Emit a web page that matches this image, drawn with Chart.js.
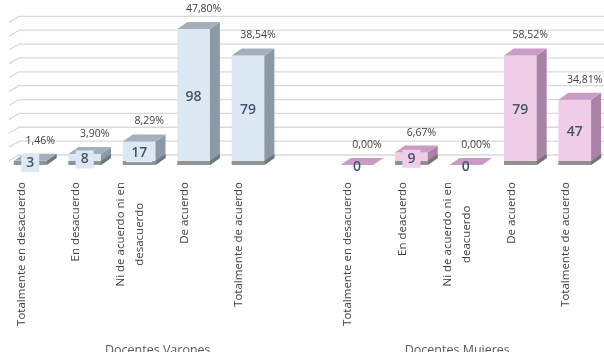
<!DOCTYPE html>
<html><head><meta charset="utf-8">
<script src="https://cdn.jsdelivr.net/npm/chart.js@4"></script>
<style>html,body{margin:0;padding:0;overflow:hidden;background:#fff}</style>
</head><body>
<canvas id="c" width="604" height="362"></canvas>
<script>
const varonesCategories = ['Totalmente en desacuerdo', 'En desacuerdo', ['Ni de acuerdo ni en', 'desacuerdo'], 'De acuerdo', 'Totalmente de acuerdo'];
const mujeresCategories = ['Totalmente en desacuerdo', 'En deacuerdo', ['Ni de acuerdo ni en', 'deacuerdo'], 'De acuerdo', 'Totalmente de acuerdo'];
const groupLabels = ['Docentes Varones', 'Docentes Mujeres'];
const varonesValues = [3, 8, 17, 98, 79];
const mujeresValues = [0, 9, 0, 79, 47];
const varonesPercent = ['1,46%', '3,90%', '8,29%', '47,80%', '38,54%'];
const mujeresPercent = ['0,00%', '6,67%', '0,00%', '58,52%', '34,81%'];
const gridValues = [0, 10, 20, 30, 40, 50, 60, 70, 80, 90, 100];

const labels = [...varonesCategories, '', ...mujeresCategories];
const values = [...varonesValues, null, ...mujeresValues];
const percents = [...varonesPercent, '', ...mujeresPercent];

const DX = 10, DY = 7, STRIP = 4;
const PAL = {
  v: {front: '#dce8f4', top: '#a3afbb', side: '#8d9aa6', strip: '#8f9499', stripSide: '#6f767c'},
  m: {front: '#f0cde6', top: '#c99bc5', side: '#a982a6', strip: '#909090', stripSide: '#747474'}
};
const palOf = i => i < 5 ? PAL.v : PAL.m;

function poly(ctx, pts, fill) {
  ctx.beginPath();
  ctx.moveTo(pts[0][0], pts[0][1]);
  for (let k = 1; k < pts.length; k++) ctx.lineTo(pts[k][0], pts[k][1]);
  ctx.closePath();
  ctx.fillStyle = fill;
  ctx.fill();
}

const bars3d = {
  id: 'bars3d',
  beforeDatasetsDraw(chart) {
    const ctx = chart.ctx, y = chart.scales.y, a = chart.chartArea;
    ctx.save();
    ctx.strokeStyle = '#d9d9d9';
    ctx.lineWidth = 1.3;
    gridValues.forEach(v => {
      const py = y.getPixelForValue(v) - 10;
      ctx.beginPath();
      ctx.moveTo(a.left + 6, py + 6);
      ctx.lineTo(a.left + 16, py);
      ctx.lineTo(a.right + 4, py);
      ctx.stroke();
    });
    ctx.restore();
  },
  afterDatasetsDraw(chart) {
    const ctx = chart.ctx;
    const meta = chart.getDatasetMeta(0);
    ctx.save();
    meta.data.forEach((el, i) => {
      if (values[i] === null) return;
      const p = palOf(i);
      const w = el.width, left = el.x - w / 2, right = el.x + w / 2;
      const top = el.y, base = el.base;
      const s = Math.min(STRIP, base - top);
      if (s > 0) ctx.fillStyle = p.strip, ctx.fillRect(left, base - s, w, s);
      poly(ctx, [[right, top], [right + DX, top - DY], [right + DX, base - DY], [right, base]], p.side);
      if (s > 0) poly(ctx, [[right, base - s], [right + DX, base - s - DY], [right + DX, base - DY], [right, base]], p.stripSide);
      poly(ctx, [[left, top], [right, top], [right + DX, top - DY], [left + DX, top - DY]], p.top);
    });
    meta.data.forEach((el, i) => {
      if (values[i] === null) return;
      const p = palOf(i);
      const top = el.y, base = el.base;
      const cy = values[i] === 0 ? base + 2 : (top + base) / 2;
      ctx.font = '600 14px "Open Sans"';
      ctx.textAlign = 'center';
      ctx.textBaseline = 'middle';
      const txt = String(values[i]);
      if (values[i] > 0) {
        const tw = ctx.measureText(txt).width;
        ctx.fillStyle = p.front;
        ctx.fillRect(el.x - tw / 2 - 5, cy - 9, tw + 10, 18);
      }
      ctx.fillStyle = '#44546a';
      ctx.fillText(txt, el.x, cy);
      ctx.font = '10.5px "Open Sans"';
      ctx.fillStyle = '#404040';
      ctx.fillText(percents[i], el.x + 10, top - DY - 13);
    });
    ctx.restore();
  },
  afterDraw(chart) {
    const ctx = chart.ctx, x = chart.scales.x;
    const yTop = x.top + 17;
    ctx.save();
    ctx.font = '11.5px "Open Sans"';
    ctx.fillStyle = '#404040';
    ctx.textBaseline = 'middle';
    labels.forEach((lab, i) => {
      if (!lab) return;
      const lines = Array.isArray(lab) ? lab : [lab];
      const cx = x.getPixelForValue(i) - 9;
      const lh = 19;
      const w0 = ctx.measureText(lines[0]).width;
      lines.forEach((ln, k) => {
        const px = cx + (k - (lines.length - 1) / 2) * lh;
        ctx.save();
        ctx.translate(px, yTop);
        ctx.rotate(-Math.PI / 2);
        ctx.textAlign = 'center';
        ctx.fillText(ln, -w0 / 2, 0);
        ctx.restore();
      });
    });
    ctx.restore();
  }
};

new Chart(document.getElementById('c'), {
  type: 'bar',
  data: {
    labels: labels,
    datasets: [{
      data: values,
      backgroundColor: values.map((v, i) => palOf(i).front),
      borderWidth: 0,
      categoryPercentage: 1,
      barPercentage: 0.6
    }]
  },
  options: {
    responsive: false,
    animation: false,
    layout: {padding: {top: 18, left: 3, right: 2, bottom: 0}},
    plugins: {legend: {display: false}, tooltip: {enabled: false}},
    scales: {
      y: {display: false, min: 0, max: 106},
      x: {
        grid: {display: false, drawTicks: false},
        border: {display: false},
        ticks: {display: false},
        afterFit(s) { s.height = 170; }
      },
      g: {
        type: 'category', labels: groupLabels, position: 'bottom', weight: 1, offset: true,
        grid: {display: false, drawTicks: false},
        border: {display: false},
        ticks: {padding: 8, labelOffset: 5, color: '#595959', font: {family: 'Open Sans', size: 12.5}},
        afterFit(s) { s.height = 27; }
      }
    }
  },
  plugins: [bars3d]
});
</script>
</body></html>
